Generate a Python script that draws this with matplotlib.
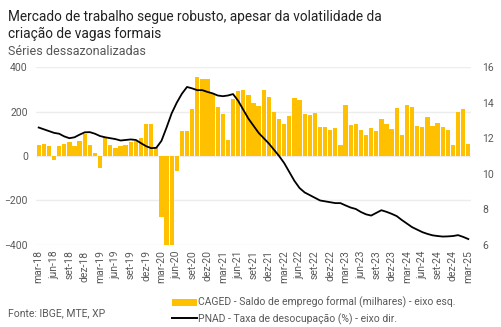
import matplotlib
matplotlib.use('Agg')
import matplotlib.pyplot as plt
from matplotlib.patches import Patch
from matplotlib.lines import Line2D

plt.rcParams['font.family'] = ['Roboto', 'DejaVu Sans']

# meses de mar/18 a mar/25
month_names = ['jan', 'fev', 'mar', 'abr', 'mai', 'jun', 'jul', 'ago', 'set', 'out', 'nov', 'dez']
months = []
for k in range(85):
    m = (2 + k) % 12
    y = 18 + (2 + k) // 12
    months.append(f'{month_names[m]}-{y}')

# CAGED - saldo de emprego formal (milhares), dessazonalizado
caged = [51, 56, 45, -20, 44, 56, 63, 45, 66, 100, 48, 15,
         -54, 87, 51, 36, 45, 51, 63, 66, 83, 143, 143, 36,
         -275, -400, -400, -69, 111, 111, 211, 353, 346, 346, 277, 220,
         190, 74, 256, 292, 295, 274, 239, 227, 298, 263, 196, 165,
         146, 179, 259, 250, 188, 183, 194, 131, 131, 116, 126, 48,
         229, 141, 143, 116, 96, 126, 111, 168, 146, 120, 218, 96,
         229, 221, 134, 131, 176, 135, 150, 131, 116, 51, 196, 211,
         56]

# PNAD - taxa de desocupacao (%)
pnad = [12.6, 12.5, 12.4, 12.3, 12.25, 12.1, 12.0, 12.05, 12.2, 12.33, 12.34, 12.25,
        12.12, 12.05, 12.0, 11.95, 11.87, 11.9, 11.93, 11.9, 11.72, 11.55, 11.44, 11.46,
        11.85, 12.6, 13.4, 14.0, 14.5, 14.88, 14.8, 14.7, 14.7, 14.6, 14.52, 14.4,
        14.36, 14.4, 14.48, 14.1, 13.6, 13.1, 12.7, 12.3, 12.0, 11.7, 11.35, 11.0,
        10.6, 10.1, 9.6, 9.2, 8.95, 8.8, 8.65, 8.5, 8.45, 8.4, 8.35, 8.35,
        8.22, 8.1, 8.02, 7.85, 7.72, 7.65, 7.8, 7.95, 7.86, 7.75, 7.62, 7.4,
        7.2, 7.0, 6.86, 6.72, 6.62, 6.54, 6.5, 6.47, 6.48, 6.5, 6.55, 6.45,
        6.33]

x = list(range(len(months)))
tick_pos = x[::3]
tick_labels = months[::3]

fig = plt.figure(figsize=(5.02, 3.27), dpi=100)
ax = fig.add_axes([0.072, 0.251, 0.866, 0.544])
ax2 = ax.twinx()

ax.bar(x, caged, width=0.84, color='#FFC000', zorder=2)
ax2.plot(x, pnad, color='black', linewidth=1.3, zorder=3)

ax.set_xlim(-0.5, 84.5)
ax.set_ylim(-400, 400)
ax.set_yticks([-400, -200, 0, 200, 400])
ax2.set_ylim(6, 16)
ax2.set_yticks([6, 8, 10, 12, 14, 16])

ax.set_xticks(tick_pos)
ax.set_xticklabels(tick_labels, rotation=90)
ax.grid(axis='y', color='#EDEDED', linewidth=1, zorder=0)
ax.set_axisbelow(True)

for a in (ax, ax2):
    for s in a.spines.values():
        s.set_visible(False)
    a.tick_params(length=0, labelsize=7.5, colors='#595959')
ax.tick_params(axis='x', pad=4)
ax.tick_params(axis='y', pad=6)
ax2.tick_params(axis='y', pad=8)

fig.text(0.016, 0.968, 'Mercado de trabalho segue robusto, apesar da volatilidade da\ncriação de vagas formais',
         fontsize=9.8, color='#222222', va='top', linespacing=1.25)
fig.text(0.016, 0.862, 'Séries dessazonalizadas', fontsize=9, color='#555555', va='top')
fig.text(0.016, 0.028, 'Fonte: IBGE, MTE, XP', fontsize=7.5, color='#595959', va='bottom')

handles = [Patch(facecolor='#FFC000', edgecolor='none'),
           Line2D([0], [0], color='black', linewidth=1.4)]
labels = ['CAGED - Saldo de emprego formal (milhares) - eixo esq.',
          'PNAD - Taxa de desocupação (%) - eixo dir.']
fig.legend(handles, labels, loc='upper left', bbox_to_anchor=(0.333, 0.108),
           frameon=False, fontsize=7.5, labelcolor='#595959',
           handlelength=2.4, handletextpad=0.1, labelspacing=0.45, borderpad=0)

fig.savefig('out.png', dpi=100)
